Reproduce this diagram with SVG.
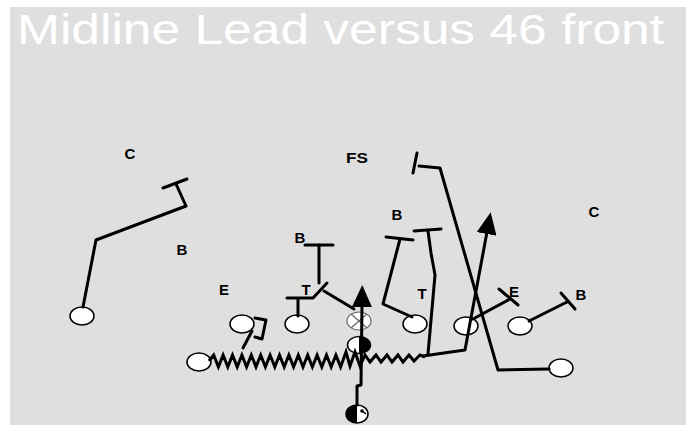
<svg xmlns="http://www.w3.org/2000/svg" width="696" height="427" viewBox="0 0 696 427">
  <style>
    .lbl { font-family: "Liberation Sans", Arial, sans-serif; font-weight: bold; font-size: 15px; fill: #000; text-anchor: middle; dominant-baseline: central; }
    .pl { fill: #fff; stroke: #000; stroke-width: 1.5; }
    .rt { fill: none; stroke: #000; stroke-width: 3; stroke-linecap: round; stroke-linejoin: round; }
    .zz { fill: none; stroke: #000; stroke-width: 3; stroke-linejoin: miter; }
  </style>
  <defs>
    <marker id="head" viewBox="0 0 22 20" refX="2" refY="10" markerWidth="22" markerHeight="20" markerUnits="userSpaceOnUse" orient="auto">
      <path d="M0,0 L22,10 L0,20 Z" fill="#000"/>
    </marker>
  </defs>

  <!-- field -->
  <rect x="0" y="0" width="696" height="427" fill="#fff"/>
  <rect x="10" y="7" width="676" height="418" fill="#dfdfdf"/>
  <text x="17" y="44" textLength="647" lengthAdjust="spacingAndGlyphs" font-family="Liberation Sans, Arial, sans-serif" font-size="43" fill="#fff">Midline Lead versus 46 front</text>

  <!-- defense -->
  <g id="def-c-left"><text class="lbl" x="130" y="153">C</text></g>
  <g id="def-fs"><text class="lbl" x="357" y="157" textLength="22" lengthAdjust="spacingAndGlyphs">FS</text></g>
  <g id="def-b-left"><text class="lbl" x="182" y="249">B</text></g>
  <g id="def-b-mid"><text class="lbl" x="300" y="237">B</text></g>
  <g id="def-b-right"><text class="lbl" x="397" y="214">B</text></g>
  <g id="def-c-right"><text class="lbl" x="594" y="211">C</text></g>
  <g id="def-e-left"><text class="lbl" x="224" y="289">E</text></g>
  <g id="def-t-left"><text class="lbl" x="306" y="289">T</text></g>
  <g id="def-t-right"><text class="lbl" x="422" y="293">T</text></g>
  <g id="def-e-right"><text class="lbl" x="514" y="291">E</text></g>
  <g id="def-b-edge"><text class="lbl" x="581" y="294">B</text></g>

  <!-- offense -->
  <g id="off-split-end"><ellipse class="pl" cx="82" cy="316" rx="12" ry="9"/></g>
  <g id="off-left-tackle"><ellipse class="pl" cx="242" cy="324" rx="12" ry="9"/></g>
  <g id="off-left-guard"><ellipse class="pl" cx="297" cy="324" rx="12" ry="9"/></g>
  <g id="off-center">
    <ellipse cx="359" cy="321" rx="12" ry="9" fill="#fff" stroke="#666" stroke-width="1.2"/>
    <path d="M351,314 L367,328 M367,314 L351,328" stroke="#666" stroke-width="1.2"/>
  </g>
  <g id="off-right-guard"><ellipse class="pl" cx="415" cy="324" rx="12" ry="9"/></g>
  <g id="off-right-tackle"><ellipse class="pl" cx="466" cy="326" rx="12" ry="9"/></g>
  <g id="off-tight-end"><ellipse class="pl" cx="520" cy="326" rx="12" ry="9"/></g>
  <g id="off-motion"><ellipse class="pl" cx="199" cy="362" rx="12" ry="9"/></g>
  <g id="off-flanker"><ellipse class="pl" cx="561" cy="368" rx="12" ry="9"/></g>
  <g id="off-qb">
    <ellipse class="pl" cx="359" cy="345" rx="11.5" ry="8.5"/>
    <path d="M359,336.5 A11.5,8.5 0 0 1 359,353.5 Z" fill="#000"/>
  </g>
  <g id="off-rb">
    <ellipse class="pl" cx="357" cy="414" rx="11" ry="9"/>
    <path d="M357,405 A11,9 0 0 0 357,423 Z" fill="#000"/>
    <circle cx="362" cy="411" r="1.8" fill="#000"/>
    <path d="M362,411 L366,414" stroke="#000" stroke-width="1.5"/>
  </g>

  <!-- assignments -->
  <g id="connectors">
    <!-- split end -->
    <path class="rt" d="M83,307 L96,240 L186,206 L176,184"/>
    <path class="rt" d="M163,188 L187,179"/>
    <!-- left tackle -->
    <path class="rt" d="M243,348 L252,331"/>
    <path class="rt" d="M255,318 L266,320 L262,339 L255,337"/>
    <!-- left guard -->
    <path class="rt" d="M298,316 L298,299"/>
    <path class="rt" d="M287,298 L313,298 L327,283"/>
    <!-- block on backer -->
    <path class="rt" d="M319,283 L319,245"/>
    <path class="rt" d="M305,245 L333,245"/>
    <!-- center -->
    <path class="rt" d="M324,291 L354,309"/>
    <!-- right guard -->
    <path class="rt" d="M412,317 L383,304 L400,239"/>
    <path class="rt" d="M386,237 L413,240"/>
    <!-- right tackle -->
    <path class="rt" d="M473,319 L510,299"/>
    <path class="rt" d="M499,289 L518,305"/>
    <!-- tight end -->
    <path class="rt" d="M529,321 L567,302"/>
    <path class="rt" d="M561,293 L575,309"/>
    <!-- flanker -->
    <path class="rt" d="M549,369 L498,370 L440,168 L419,166"/>
    <path class="rt" d="M417,153 L413,173"/>
    <!-- motion -->
    <polyline class="zz" points="209,361 213.7,355 218.4,367 223.1,355 227.8,367 232.5,355 237.2,367 241.9,355 246.6,367 251.3,355 256,367 260.7,355 265.4,367 270.1,355 274.8,367 279.5,355 284.2,367 288.9,355 293.6,367 298.3,355 303,367 307.7,355 312.4,367 317.1,355 321.8,367 326.5,355 331.2,367 335.9,355 340.6,367 346,352 350,366 355,352 360,366 365,355 370,362 376,355 381,362 387,355 392,362 398,355 403,362 409,355 414,361 420,355 425,357"/>
    <path class="rt" d="M423,356 L465,350 L487,232" marker-end="url(#head)"/>
    <path class="rt" d="M428,354 L435,275 L431,253 L428,231"/>
    <path class="rt" d="M414,231 L441,229"/>
    <!-- dive -->
    <path class="rt" d="M357,405 L357,386 L361,385 L362,305" marker-end="url(#head)"/>
  </g>
</svg>
